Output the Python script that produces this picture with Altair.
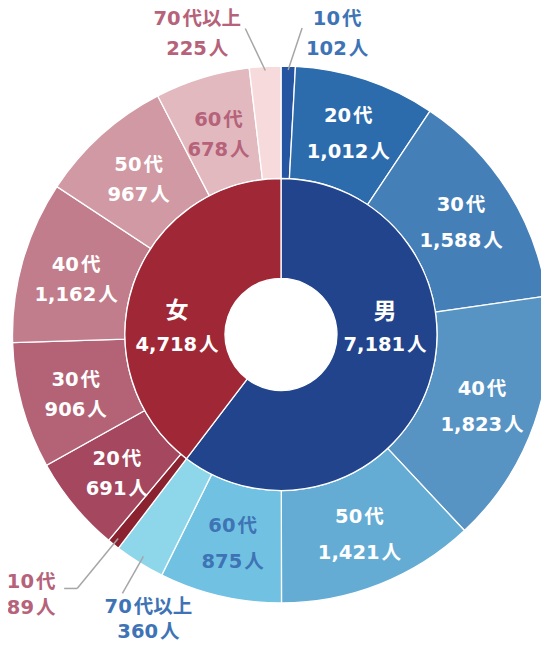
import altair as alt
import pandas as pd

# ---- data ----
sexes = ["男", "女"]
ages = ["10代", "20代", "30代", "40代", "50代", "60代", "70代以上"]
male_counts = [102, 1012, 1588, 1823, 1421, 875, 360]
female_counts = [89, 691, 906, 1162, 967, 678, 225]

male_colors = ["#2554a0", "#2c6cad", "#457fb8", "#5794c4", "#64acd4", "#71c2e2", "#8ed6ea"]
female_colors = ["#8a2230", "#a5475f", "#b46377", "#c17d8b", "#d199a3", "#e1b9bf", "#f7dbdc"]
inner_colors = ["#21448c", "#a02836"]
BLUE_TXT = "#3e74b5"
ROSE_TXT = "#b5627a"

rows = []
i = 0
for s_idx, (sex, counts) in enumerate(zip(sexes, [male_counts, female_counts])):
    for age, v in zip(ages, counts):
        rows.append({"idx": i, "sex": sex, "sex_idx": s_idx, "age": age,
                     "value": v, "key": sex + age})
        i += 1
df = pd.DataFrame(rows)
keys = list(df["key"])
outer_colors = male_colors + female_colors

# ---- layout ----
W, H = 533, 637
CX, CY = 273, 326.5
R0, R1, R2 = 56, 156, 268.5
FONT = "DejaVu Sans, Noto Sans CJK JP"
FS = 19.5
HS = "\u200a"  # hair space
outside_keys = ["男10代", "男70代以上", "女10代", "女70代以上"]

AGE_EXPR = f"replace(datum.age, '代', '{HS}代')"
LAB_EXPR = AGE_EXPR + f" + '\\n' + format(datum.value, ',') + '{HS}人'"

base = alt.Chart(df)

outer_arc = base.mark_arc(innerRadius=R1, outerRadius=R2, stroke="white", strokeWidth=1.3).encode(
    theta=alt.Theta("value:Q", stack=True),
    order=alt.Order("idx:Q"),
    color=alt.Color("key:N", scale=alt.Scale(domain=keys, range=outer_colors), legend=None),
    x=alt.value(CX), y=alt.value(CY),
)

inner_base = base.transform_aggregate(total="sum(value)", groupby=["sex", "sex_idx"])
inner_arc = inner_base.mark_arc(innerRadius=R0, outerRadius=R1, stroke="white", strokeWidth=1.3).encode(
    theta=alt.Theta("total:Q", stack=True),
    order=alt.Order("sex_idx:Q"),
    color=alt.Color("sex:N", scale=alt.Scale(domain=sexes, range=inner_colors), legend=None),
    x=alt.value(CX), y=alt.value(CY),
)

out_test = " || ".join([f"datum.key == '{k}'" for k in outside_keys])

def inside_text(sex, lh, dy_extra):
    return base.transform_calculate(
        lab=f"({out_test}) || datum.sex != '{sex}' ? '' : " + LAB_EXPR,
        tc="datum.age == '60代' ? (datum.sex == '男' ? 'm' : 'f') : 'w'",
    ).mark_text(radius=213, font=FONT, fontSize=FS, fontWeight="bold", lineBreak="\n",
                lineHeight=lh, dy=-lh / 2 + dy_extra, baseline="middle", align="center").encode(
        theta=alt.Theta("value:Q", stack=True),
        order=alt.Order("idx:Q"),
        text="lab:N",
        color=alt.Color("tc:N", scale=alt.Scale(domain=["w", "m", "f"],
                        range=["white", BLUE_TXT, ROSE_TXT]), legend=None),
        x=alt.value(CX), y=alt.value(CY),
    )

def inner_label(sex, dx, dy_top, dy_num):
    f = inner_base.transform_filter(f"datum.sex == '{sex}'")
    top = f.mark_text(font=FONT, fontSize=23, fontWeight="bold", baseline="middle",
                      align="center", color="white", dx=dx, dy=dy_top).encode(
        text="sex:N", x=alt.value(CX), y=alt.value(CY))
    num = f.transform_calculate(lab=f"format(datum.total, ',') + '{HS}人'").mark_text(
        font=FONT, fontSize=FS, fontWeight="bold", baseline="middle", align="center",
        color="white", dx=dx, dy=dy_num).encode(text="lab:N", x=alt.value(CX), y=alt.value(CY))
    return [top, num]

def positioned(key, r):
    return base.transform_window(
        cum="sum(value)", sort=[alt.SortField("idx")], frame=[None, 0]
    ).transform_joinaggregate(tot="sum(value)").transform_calculate(
        a="2*PI*(datum.cum - datum.value/2)/datum.tot"
    ).transform_calculate(
        sx=f"{CX} + {r}*sin(datum.a)", sy=f"{CY} - {r}*cos(datum.a)"
    ).transform_filter(f"datum.key == '{key}'")

def leader(key, r, segs):
    layers = []
    px, py = "datum.sx", "datum.sy"
    for ddx, ddy in segs:
        nx, ny = f"({px} + {ddx})", f"({py} + {ddy})"
        layers.append(positioned(key, r).transform_calculate(
            x1=px, y1=py, x2=nx, y2=ny
        ).mark_rule(color="#a6a6a6", strokeWidth=1.5).encode(
            x=alt.X("x1:Q", scale=None, axis=None), y=alt.Y("y1:Q", scale=None, axis=None),
            x2="x2:Q", y2="y2:Q"))
        px, py = nx, ny
    return layers

def out_label(key, r, ldx, ldy, color, lh):
    return positioned(key, r).transform_calculate(
        lab=LAB_EXPR,
        lx=f"datum.sx + {ldx}", ly=f"datum.sy + {ldy - lh / 2}"
    ).mark_text(font=FONT, fontSize=FS, fontWeight="bold", lineBreak="\n", lineHeight=lh,
                baseline="middle", align="center", color=color).encode(
        x=alt.X("lx:Q", scale=None, axis=None), y=alt.Y("ly:Q", scale=None, axis=None),
        text="lab:N")

layers = [outer_arc, inner_arc, inside_text("男", 36, 2), inside_text("女", 30, 4)]
layers += inner_label("男", 104, -22.5, 10.5)
layers += inner_label("女", -104, -24, 10.5)
layers += leader("男10代", 264.5, [(14, -42)])
layers += leader("女70代以上", 264.5, [(-20, -42)])
layers += leader("女10代", 261, [(-41, 50), (-13, 0)])
layers += leader("男70代以上", 261, [(-21, 37)])
layers += [
    out_label("男10代", 264.5, 49, -36, BLUE_TXT, 30),
    out_label("女70代以上", 264.5, -68, -36, ROSE_TXT, 30),
    out_label("女10代", 261, -87, 57, ROSE_TXT, 26),
    out_label("男70代以上", 261, 5, 63, BLUE_TXT, 25),
]

chart = alt.layer(*layers).resolve_scale(color="independent").properties(
    width=W, height=H, padding=0, autosize="none"
).configure_view(stroke=None)

chart.save("out.html", embed_options={"renderer": "svg", "actions": False})
